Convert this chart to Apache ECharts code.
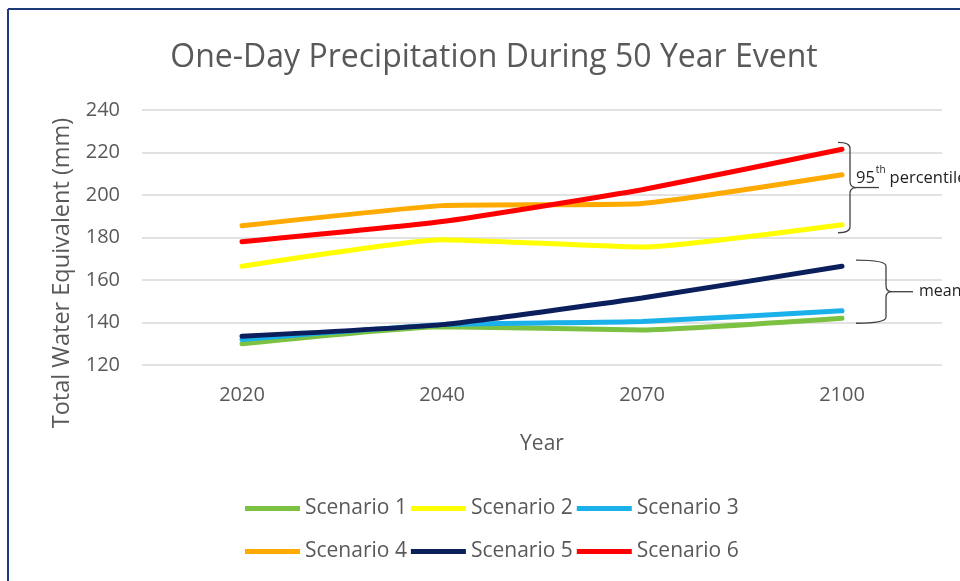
<!DOCTYPE html>
<html>
<head>
<meta charset="utf-8">
<script src="https://cdn.jsdelivr.net/npm/echarts@6/dist/echarts.min.js"></script>
<style>
  html, body { margin: 0; padding: 0; background: #ffffff; }
  #chart { width: 960px; height: 581px; }
</style>
</head>
<body>
<div id="chart"></div>
<script>
// Years on the category axis
const years = ['2020', '2040', '2070', '2100'];

// One-day precipitation (mm) for each scenario
const scenario1 = [130, 138, 136.5, 142];
const scenario2 = [166.5, 179, 175.5, 186];
const scenario3 = [132, 139, 140.5, 145.5];
const scenario4 = [185.5, 195, 196, 209.5];
const scenario5 = [133.5, 139, 151.5, 166.5];
const scenario6 = [178, 187.5, 202.5, 221.5];

const seriesNames = ['Scenario 1', 'Scenario 2', 'Scenario 3', 'Scenario 4', 'Scenario 5', 'Scenario 6'];
const seriesValues = [scenario1, scenario2, scenario3, scenario4, scenario5, scenario6];
const seriesColors = ['#7cc142', '#ffff00', '#1ab0ea', '#ffaa00', '#0a1f5c', '#ff0000'];

// Y axis ticks
const yMin = 120, yMax = 240, yStep = 20;

const FONT = '"Open Sans", sans-serif';
const TEXT = '#595959';

const chart = echarts.init(document.getElementById('chart'), null, { renderer: 'canvas' });

const series = seriesNames.map((name, i) => ({
  name: name,
  type: 'line',
  data: seriesValues[i],
  smooth: 0.15,
  symbol: 'none',
  lineStyle: { color: seriesColors[i], width: 5, cap: 'round' },
  itemStyle: { color: seriesColors[i] },
  z: 2
}));

const legendBase = {
  orient: 'horizontal',
  icon: 'rect',
  padding: 0,
  itemWidth: 55,
  itemHeight: 5,
  itemGap: 4,
  textStyle: { color: TEXT, fontFamily: FONT, fontSize: 21 }
};

chart.setOption({
  backgroundColor: '#ffffff',
  animation: false,
  title: {
    text: 'One-Day Precipitation During 50 Year Event',
    left: 489,
    textAlign: 'center',
    top: 37,
    textStyle: { color: TEXT, fontFamily: FONT, fontSize: 32, fontWeight: 'normal' }
  },
  legend: [
    Object.assign({}, legendBase, { data: seriesNames.slice(0, 3), left: 245, top: 498 }),
    Object.assign({}, legendBase, { data: seriesNames.slice(3, 6), left: 245, top: 541 })
  ],
  grid: { left: 142, right: 18, top: 110, bottom: 216 },
  xAxis: {
    type: 'category',
    data: years,
    boundaryGap: true,
    axisLine: { show: false },
    axisTick: { show: false },
    axisLabel: { color: TEXT, fontFamily: FONT, fontSize: 20, margin: 20 },
    name: 'Year',
    nameLocation: 'middle',
    nameGap: 69,
    nameTextStyle: { color: TEXT, fontFamily: FONT, fontSize: 21 }
  },
  yAxis: {
    type: 'value',
    min: yMin,
    max: yMax,
    interval: yStep,
    axisLine: { show: false },
    axisTick: { show: false },
    axisLabel: { color: TEXT, fontFamily: FONT, fontSize: 20, margin: 22 },
    splitLine: { lineStyle: { color: '#d9d9d9', width: 1.5 } }
  },
  series: series
});

// Curly brace built from lines and quadratic curves: ends at x0, spine at x1, tip reaching x2
function braceElements(x0, x1, x2, yT, yB) {
  const yM = (yT + yB) / 2;
  const r = 6;
  const style = { stroke: '#404040', lineWidth: 1.3, fill: null };
  const curve = (ax, ay, cx, cy, bx, by) => ({
    type: 'bezierCurve', silent: true, style: style,
    shape: { x1: ax, y1: ay, x2: bx, y2: by, cpx1: cx, cpy1: cy }
  });
  const seg = (ax, ay, bx, by) => ({
    type: 'line', silent: true, style: style,
    shape: { x1: ax, y1: ay, x2: bx, y2: by }
  });
  return [
    curve(x0, yT, x1, yT, x1, yT + r),
    seg(x1, yT + r, x1, yM - r),
    curve(x1, yM - r, x1, yM, x1 + r, yM),
    seg(x1 + r, yM, x2, yM),
    curve(x1 + r, yM, x1, yM, x1, yM + r),
    seg(x1, yM + r, x1, yB - r),
    curve(x1, yB - r, x1, yB, x0, yB)
  ];
}

const xEnd = chart.convertToPixel({ xAxisIndex: 0 }, years[3]);
const py = v => chart.convertToPixel({ yAxisIndex: 0 }, v);

// 95th percentile group: scenarios 2, 4, 6; mean group: scenarios 1, 3, 5
const topHigh = py(Math.max(scenario2[3], scenario4[3], scenario6[3])) - 7;
const botHigh = py(Math.min(scenario2[3], scenario4[3], scenario6[3])) + 8;
const topMean = py(Math.max(scenario1[3], scenario3[3], scenario5[3])) - 6;
const botMean = py(Math.min(scenario1[3], scenario3[3], scenario5[3])) + 5;

const graphics = [
  // frame
  { type: 'line', shape: { x1: 8, y1: 9, x2: 960, y2: 9 }, style: { stroke: '#1f3a7a', lineWidth: 2 }, silent: true },
  { type: 'line', shape: { x1: 8, y1: 9, x2: 8, y2: 581 }, style: { stroke: '#1f3a7a', lineWidth: 2 }, silent: true },
  // y axis title
  {
    type: 'text', x: 62, y: 273, rotation: Math.PI / 2,
    style: { text: 'Total Water Equivalent (mm)', fill: TEXT, font: '23.5px ' + FONT, align: 'center', verticalAlign: 'middle' }
  },
  {
    type: 'text', x: xEnd + 14, y: 176,
    style: {
      text: '{b|95}{s|th}{b|percentile}',
      verticalAlign: 'middle',
      rich: {
        b: { fontFamily: FONT, fontSize: 16.5, fill: '#222222', lineHeight: 22, verticalAlign: 'bottom' },
        s: { fontFamily: FONT, fontSize: 10, fill: '#222222', lineHeight: 22, verticalAlign: 'top', padding: [0, 4, 0, 1] }
      }
    }
  },
  {
    type: 'text', x: xEnd + 77, y: 291,
    style: { text: 'mean', fill: '#222222', font: '16px ' + FONT, verticalAlign: 'middle' }
  }
].concat(
  braceElements(xEnd - 4, xEnd + 8, xEnd + 37, topHigh, botHigh),
  braceElements(xEnd + 14, xEnd + 44, xEnd + 71, topMean, botMean)
);

chart.setOption({ graphic: graphics });
</script>
</body>
</html>
